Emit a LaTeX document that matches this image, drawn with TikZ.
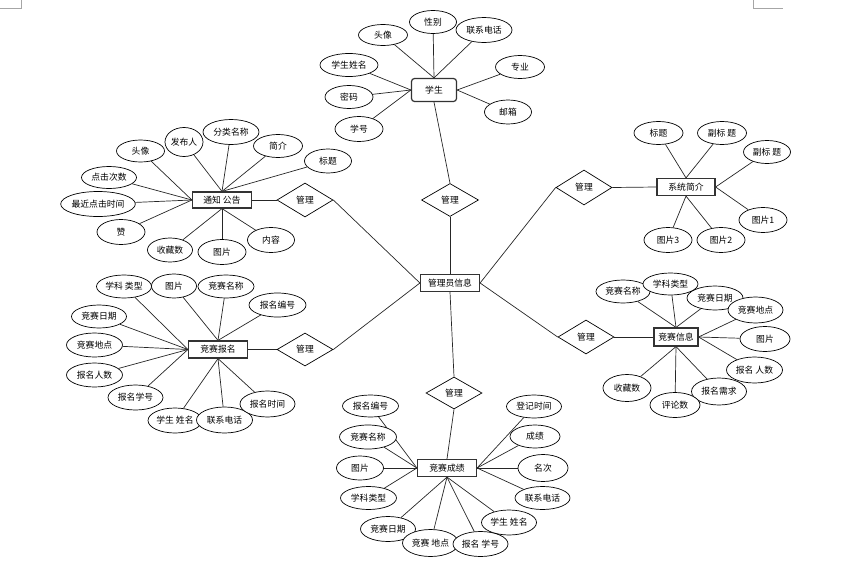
\documentclass[tikz,border=0pt]{standalone}
\usepackage{fontspec}
\newfontfamily\cjk{Noto Sans CJK SC}
\usetikzlibrary{shapes.geometric,backgrounds}
\tikzset{
  att/.style 2 args={ellipse, draw=black, fill=white, line width=0.7pt, inner sep=0pt,
    minimum width=#1pt, minimum height=#2pt, font=\cjk\fontsize{8.8}{10}\selectfont},
  ent/.style={rectangle, draw=black!80, fill=white, line width=1.2pt, inner sep=0pt,
    minimum width=#1pt, minimum height=17pt, font=\cjk\fontsize{8.8}{10}\selectfont},
  rel/.style={diamond, draw=black, fill=white, line width=0.7pt, inner sep=0pt,
    minimum width=56pt, minimum height=33pt, font=\cjk\fontsize{8.8}{10}\selectfont},
  con/.style={draw=black!85, line width=0.7pt},
  cornermark/.style={draw=black!35, line width=0.6pt}
}
\begin{document}
\begin{tikzpicture}[x=1pt,y=-1pt]
\useasboundingbox (0,0) rectangle (860,565);
% page corner marks
\coordinate (m1) at (21,0); \coordinate (m2) at (21,8); \coordinate (m3) at (0,8);
\coordinate (m4) at (753,0); \coordinate (m5) at (753,8); \coordinate (m6) at (783,8);
\draw[cornermark] (m1) -- (m2) -- (m3);
\draw[cornermark] (m4) -- (m5) -- (m6);

% entities
\node[ent=45, minimum height=23pt, rounded corners=3pt] (stu) at (434,90) {学生};
\node[ent=59] (adm) at (450,283) {管理员信息};
\node[ent=59, minimum height=16pt] (nt) at (222,200) {通知 公告};
\node[ent=58] (sys) at (686,187) {系统简介};
\node[ent=59] (reg) at (218,349.5) {竞赛报名};
\node[ent=44, minimum height=18pt] (inf) at (676,337) {竞赛信息};
\node[ent=59] (sc) at (447,468) {竞赛成绩};

% relations
\node[rel, minimum width=57pt] (r1) at (450,200) {管理};
\node[rel, minimum height=34pt] (r2) at (305,200) {管理};
\node[rel, minimum height=35pt] (r3) at (584,187.5) {管理};
\node[rel] (r4) at (305,349.5) {管理};
\node[rel, minimum height=34pt] (r5) at (586,337) {管理};
\node[rel, minimum height=32pt] (r6) at (454,393) {管理};

% student attributes
\node[att={49}{21}] (s1) at (383,35) {头像};
\node[att={47}{23}] (s2) at (433,22) {性别};
\node[att={56}{25}] (s3) at (484,30) {联系电话};
\node[att={58}{23}] (s4) at (349,65) {学生姓名};
\node[att={49}{23}] (s5) at (520,67) {专业};
\node[att={48}{23}] (s6) at (349,97) {密码};
\node[att={47}{24}] (s7) at (508,112) {邮箱};
\node[att={48}{25}] (s8) at (359,129) {学号};

% notice attributes
\node[att={48}{22}] (n1) at (140.5,151) {头像};
\node[att={38}{29}] (n2) at (184,142) {发布人};
\node[att={56}{25}] (n3) at (231,132) {分类名称};
\node[att={49}{23}] (n4) at (278,146) {简介};
\node[att={47}{24}] (n5) at (328,161) {标题};
\node[att={55}{22}] (n6) at (109,177.5) {点击次数};
\node[att={73}{25}] (n7) at (98,204) {最近点击时间};
\node[att={48}{25}] (n8) at (121,232) {赞};
\node[att={45}{24}] (n9) at (170,250) {收藏数};
\node[att={48}{25}] (n10) at (222,252) {图片};
\node[att={47}{25}] (n11) at (271,240) {内容};

% system attributes
\node[att={49}{23}] (y1) at (658.5,133) {标题};
\node[att={49}{23}] (y2) at (722,133) {副标 题};
\node[att={47}{23}] (y3) at (767,152) {副标 题};
\node[att={48}{25}] (y4) at (763,220) {图片1};
\node[att={48}{25}] (y5) at (721,240) {图片2};
\node[att={48}{25}] (y6) at (668,240) {图片3};

% registration attributes
\node[att={55}{23}] (g1) at (124,286.5) {学科 类型};
\node[att={45}{24}] (g2) at (174,286) {图片};
\node[att={56}{23}] (g3) at (226,286.5) {竞赛名称};
\node[att={57}{24}] (g4) at (277.5,305) {报名编号};
\node[att={55}{23}] (g5) at (99,316.5) {竞赛日期};
\node[att={56}{24}] (g6) at (94.5,345) {竞赛地点};
\node[att={56}{24}] (g7) at (94.5,375) {报名人数};
\node[att={55}{25}] (g8) at (135.5,397.5) {报名学号};
\node[att={54}{25}] (g9) at (175,420.5) {学生 姓名};
\node[att={56}{26}] (g10) at (224.5,420) {联系电话};
\node[att={55}{26}] (g11) at (267.5,404) {报名时间};

% info attributes
\node[att={54}{23}] (i1) at (623,291.5) {竞赛名称};
\node[att={55}{22}] (i2) at (670.5,284) {学科类型};
\node[att={56}{24}] (i3) at (715,298) {竞赛日期};
\node[att={55}{26}] (i4) at (755.5,310) {竞赛地点};
\node[att={50}{25}] (i5) at (765,339) {图片};
\node[att={56}{26}] (i6) at (754.5,370) {报名 人数};
\node[att={48}{27}] (i9) at (627,388) {收藏数};
\node[att={55}{27}] (i7) at (719,391.5) {报名需求};
\node[att={50}{25}] (i8) at (675,405) {评论数};

% score attributes
\node[att={56}{22}] (c1) at (370.5,406) {报名编号};
\node[att={57}{24}] (c2) at (368,437) {竞赛名称};
\node[att={47}{24}] (c3) at (360,468) {图片};
\node[att={56}{23}] (c4) at (368.5,498) {学科类型};
\node[att={55}{25}] (c5) at (388,529) {竞赛日期};
\node[att={56}{27}] (c6) at (430.5,543) {竞赛 地点};
\node[att={55}{25}] (c8) at (509,522.5) {学生 姓名};
\node[att={55}{25}] (c7) at (480.5,544) {报名 学号};
\node[att={55}{23}] (c9) at (542.5,498) {联系电话};
\node[att={50}{27}] (c10) at (543,468) {名次};
\node[att={50}{23}] (c11) at (535,436.5) {成绩};
\node[att={55}{23}] (c12) at (534,406.5) {登记时间};

\begin{pgfonlayer}{background}
% student
\foreach \a in {s1,s2,s3} \draw[con] (\a) -- (stu.north);
\foreach \a in {s4,s6,s8} \draw[con] (\a) -- (stu.west);
\foreach \a in {s5,s7} \draw[con] (\a) -- (stu.east);
\draw[con] (stu.south) -- (r1.north);
\draw[con] (r1.south) -- (adm.north);
% notice
\foreach \a in {n1,n6,n7,n8} \draw[con] (\a) -- (nt.west);
\foreach \a in {n2,n3,n4,n5} \draw[con] (\a) -- (nt.north);
\foreach \a in {n9,n10,n11} \draw[con] (\a) -- (nt.south);
\draw[con] (nt.east) -- (r2.west);
\draw[con] (r2.east) -- (adm.west);
% system
\foreach \a in {y1,y2} \draw[con] (\a) -- (sys.north);
\foreach \a in {y3,y4} \draw[con] (\a) -- (sys.east);
\foreach \a in {y5,y6} \draw[con] (\a) -- (sys.south);
\draw[con] (adm.east) -- (r3.west);
\draw[con] (r3.east) -- (sys.west);
% registration
\foreach \a in {g1,g5,g6,g7,g8} \draw[con] (\a) -- (reg.west);
\foreach \a in {g2,g3,g4} \draw[con] (\a) -- (reg.north);
\foreach \a in {g9,g10,g11} \draw[con] (\a) -- (reg.south);
\draw[con] (reg.east) -- (r4.west);
\draw[con] (r4.east) -- (adm.west);
% info
\foreach \a in {i1,i2,i3} \draw[con] (\a) -- (inf.north);
\foreach \a in {i4,i5,i6} \draw[con] (\a) -- (inf.east);
\foreach \a in {i7,i8,i9} \draw[con] (\a) -- (inf.south);
\draw[con] (adm.east) -- (r5.west);
\draw[con] (r5.east) -- (inf.west);
% score
\foreach \a in {c1,c2,c3,c4} \draw[con] (\a) -- (sc.west);
\foreach \a in {c5,c6,c7,c8} \draw[con] (\a) -- (sc.south);
\foreach \a in {c9,c10,c11,c12} \draw[con] (\a) -- (sc.east);
\draw[con] (adm.south) -- (r6.north);
\draw[con] (r6.south) -- (sc.north);
\end{pgfonlayer}
\end{tikzpicture}
\end{document}
